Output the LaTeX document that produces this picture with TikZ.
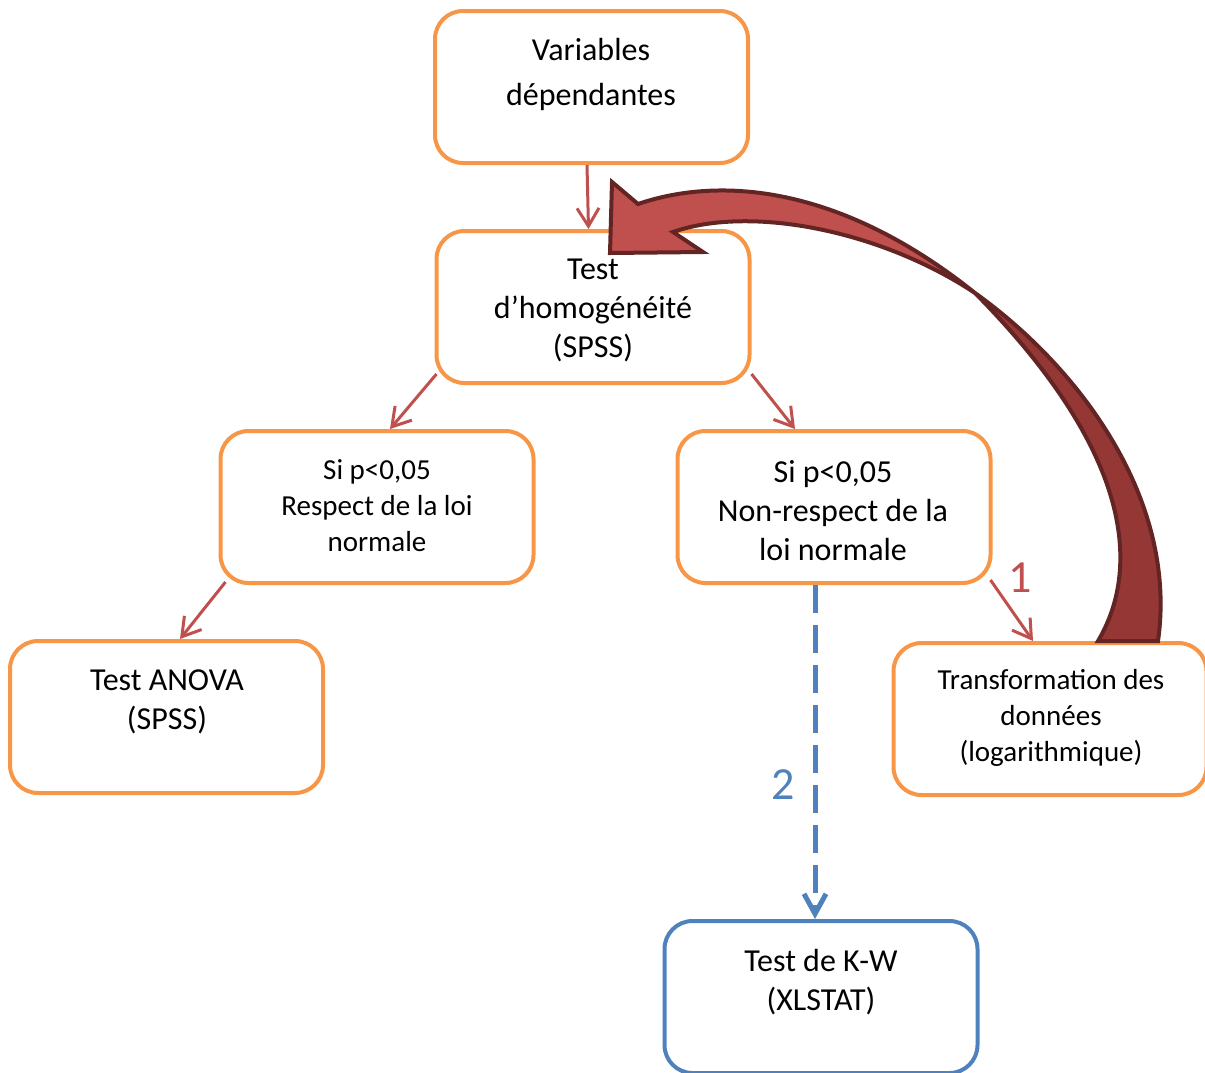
\documentclass[tikz,border=0pt]{standalone}
\usepackage{fontspec}
\setmainfont{Carlito}
\usetikzlibrary{arrows.meta}
\definecolor{orng}{HTML}{F79646}
\definecolor{blu}{HTML}{4F81BD}
\definecolor{redl}{HTML}{C0504D}
\definecolor{redd}{HTML}{953735}
\definecolor{redo}{HTML}{632523}
\begin{document}
\begin{tikzpicture}[x=1pt,y=-1pt,
  obox/.style={draw=orng,line width=4pt,rounded corners=28pt,minimum width=313pt,minimum height=152pt,inner sep=0pt},
  bbox/.style={obox,draw=blu},
  tbig/.style={font=\fontsize{32}{39}\selectfont,align=center,inner sep=0pt},
  tsmall/.style={font=\fontsize{29}{36}\selectfont,align=center,inner sep=0pt},
  rarr/.style={draw=redl,line width=3pt,-{Straight Barb[length=18pt,width=22pt]}},
  barr/.style={draw=blu,line width=5pt,dash pattern=on 28pt off 12pt,-{Straight Barb[length=20pt,width=22pt]}},
  numlab/.style={font=\fontsize{46}{50}\selectfont,inner sep=0pt},
  bigarrow/.style={draw=redo,line width=4pt,line join=miter}]
\useasboundingbox (0,0) rectangle (1205,1072);
% boxes
\node[obox] (b1) at (591.5,87) {};
\node[obox] (b2) at (593,307) {};
\node[obox] (b3) at (377,507) {};
\node[obox] (b4) at (834,507) {};
\node[obox] (b5) at (166.5,717) {};
\node[obox] (b6) at (1050,719) {};
\node[bbox] (b7) at (821,997) {};
% texts
\node[tbig,font=\fontsize{32}{45}\selectfont] (t1) at (591,74) {Variables\\dépendantes};
\node[tbig] (t2) at (593,310) {Test\\d’homogénéité\\(SPSS)};
\node[tsmall] (t3) at (377,506) {Si p<0,05\\Respect de la loi\\normale};
\node[tbig] (t4) at (833,511) {Si p<0,05\\Non-respect de la\\loi normale};
\node[tbig] (t5) at (167,702) {Test ANOVA\\(SPSS)};
\node[tsmall] (t6) at (1051,718) {Transformation des\\données\\(logarithmique)};
\node[tbig] (t7) at (821,982) {Test de K-W\\(XLSTAT)};
% connectors
\draw[rarr] ([xshift=-4.5pt]b1.south) -- ([xshift=-4.5pt]b2.north);
\draw[rarr] ([xshift=2pt,yshift=11pt]b2.south west) -- ([xshift=13pt]b3.north);
\draw[rarr] ([yshift=11pt]b2.south east) -- ([xshift=-39pt]b4.north);
\draw[rarr] ([xshift=7pt,yshift=3pt]b3.south west) -- ([xshift=13.5pt]b5.north);
\draw[rarr] ([xshift=-2pt,yshift=5pt]b4.south east) -- ([xshift=-17pt]b6.north);
\draw[barr] ([xshift=-19pt]b4.south) -- ([xshift=-6pt]b7.north);
\node[numlab,text=redl] (n1) at (1020,578) {1};
\node[numlab,text=blu] (n2) at (783,785) {2};
% big curved arrow (twisted ribbon)
\coordinate (tw) at (975,293);
\filldraw[bigarrow,fill=redd]
  (tw) .. controls (1080,368) and (1178,500) .. (1158,641)
  -- (1098,641)
  .. controls (1140,570) and (1135,455) .. (tw) -- cycle;
\filldraw[bigarrow,fill=redl]
  (tw) .. controls (840,185) and (720,176) .. (638,204)
  -- (612,182) -- (610,253) -- (703,252) -- (673,232)
  .. controls (750,205) and (880,230) .. (tw) -- cycle;
\end{tikzpicture}
\end{document}
